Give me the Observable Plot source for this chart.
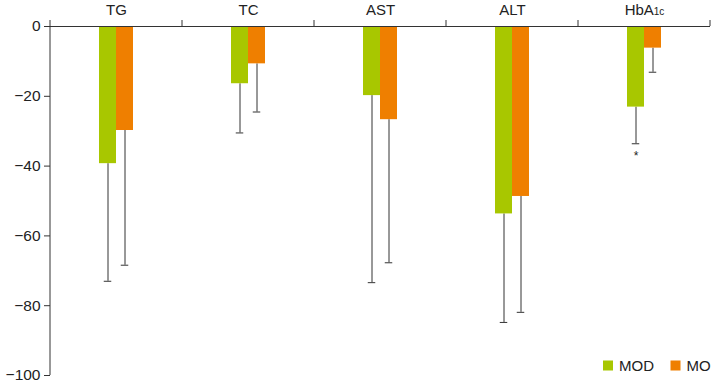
<!DOCTYPE html>
<html><head><meta charset="utf-8">
<script src="https://cdn.jsdelivr.net/npm/d3@7"></script>
<script src="https://cdn.jsdelivr.net/npm/@observablehq/plot@0.6"></script>
<style>body{margin:0;background:#fff;font-family:"Liberation Sans",Arial,sans-serif}</style>
</head><body><div id="chart"></div>
<script>
const categories = ["TG", "TC", "AST", "ALT", "HbA1c"];
const series = ["MOD", "MO"];
const modValues = [-39.3, -16.4, -19.8, -53.7, -23.1];
const modLower  = [-73.0, -30.5, -73.4, -84.8, -33.6];
const moValues  = [-29.8, -10.7, -26.7, -48.7, -6.2];
const moLower   = [-68.4, -24.5, -67.7, -81.9, -13.1];
const significantMOD = ["HbA1c"];
const yTicks = [0, -20, -40, -60, -80, -100];
const colors = ["#a8c700", "#ef7f00"];

const rows = categories.flatMap((c, i) => [
  {category: c, series: "MOD", value: modValues[i], lower: modLower[i]},
  {category: c, series: "MO", value: moValues[i], lower: moLower[i]}
]);
const stars = rows.filter(d => d.series === "MOD" && significantMOD.includes(d.category));

const font = '"Liberation Sans", Arial, sans-serif';
const plot = Plot.plot({
  width: 714, height: 382,
  marginTop: 26, marginLeft: 49, marginRight: 3, marginBottom: 7,
  style: {fontFamily: font, fontSize: "16px", color: "#222", background: "#fff", overflow: "visible"},
  fx: {domain: categories, padding: 0, label: null},
  x: {domain: series, paddingInner: 0, paddingOuter: 2.78, axis: null},
  y: {domain: [-100, 0], label: null},
  color: {domain: series, range: colors},
  marks: [
    Plot.axisFx({anchor: "top", tickSize: 0, tickPadding: 12, fontSize: 15, label: null}),
    Plot.axisY({ticks: yTicks, tickSize: 6, tickPadding: 4, fontSize: 15.5, label: null, facetAnchor: "left", stroke: "#333",
      tickFormat: d => d < 0 ? "\u2212" + Math.abs(d) : String(d)}),
    Plot.ruleX(rows, {fx: "category", x: "series", y1: "value", y2: "lower", stroke: "#333"}),
    Plot.tickY(rows, {fx: "category", x: "series", y: "lower", stroke: "#333", insetLeft: 4.75, insetRight: 4.75}),
    Plot.barY(rows, {fx: "category", x: "series", y: "value", fill: "series"}),
    Plot.ruleY([0], {stroke: "#333"}),
    Plot.text(stars, {fx: "category", x: "series", y: "lower", text: () => "*", dy: 12, fontSize: 12, fill: "#222"})
  ]
});

const svg = d3.select(plot.tagName.toLowerCase() === "svg" ? plot : plot.querySelector("svg"));
svg.selectAll('[aria-label="y-axis tick label"] text').style("font-size", "15.5px");
svg.selectAll('[aria-label="fx-axis tick label"] text').style("font-size", "15px");
const fxs = plot.scale("fx"), ys = plot.scale("y");
const y0 = ys.apply(0), yMin = ys.apply(-100);
const edges = categories.map(c => fxs.apply(c)).concat([fxs.apply(categories[categories.length - 1]) + fxs.bandwidth]);
const tg = svg.append("g").attr("stroke", "#333");
edges.forEach(x => tg.append("line").attr("x1", x).attr("x2", x).attr("y1", y0 - 6).attr("y2", y0));
tg.append("line").attr("x1", edges[0]).attr("x2", edges[0]).attr("y1", y0).attr("y2", yMin);

svg.selectAll("text").filter(function() { return this.textContent === "HbA1c"; }).each(function() {
  const t = d3.select(this);
  t.text("HbA");
  t.append("tspan").attr("font-size", 10).style("font-size", "10px").text("1c");
});

const lg = svg.append("g").attr("font-family", font).attr("font-size", 15).attr("fill", "#222").attr("text-anchor", "start");
const legendX = [603, 670.5];
series.forEach((s, i) => {
  lg.append("rect").attr("x", legendX[i]).attr("y", 360.5).attr("width", 10).attr("height", 10).attr("fill", colors[i]);
  lg.append("text").attr("x", legendX[i] + 16).attr("y", 365.5).attr("dy", "0.35em").text(s);
});

document.getElementById("chart").appendChild(plot);
</script>
</body></html>
